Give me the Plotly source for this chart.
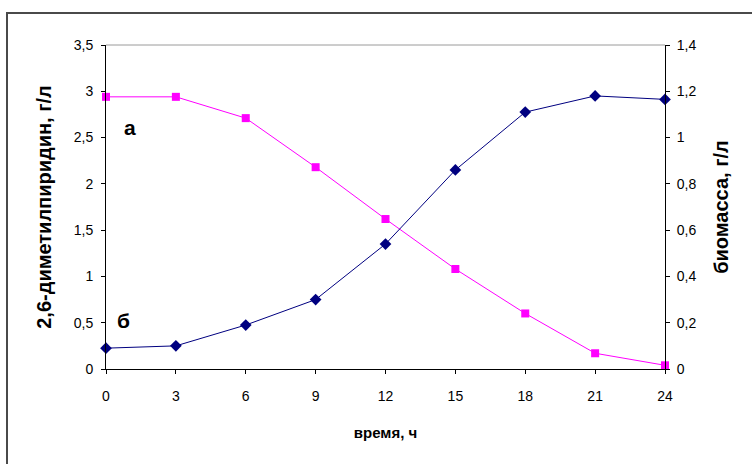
import plotly.graph_objects as go

# ---- data ----
time_h = [0, 3, 6, 9, 12, 15, 18, 21, 24]
dimethylpyridine = [2.94, 2.94, 2.71, 2.18, 1.62, 1.08, 0.60, 0.17, 0.04]
biomass = [0.09, 0.10, 0.19, 0.30, 0.54, 0.86, 1.11, 1.18, 1.165]

x_ticks = [0, 3, 6, 9, 12, 15, 18, 21, 24]
left_ticks = [0, 0.5, 1, 1.5, 2, 2.5, 3, 3.5]
left_labels = ["0", "0,5", "1", "1,5", "2", "2,5", "3", "3,5"]
right_ticks = [0, 0.2, 0.4, 0.6, 0.8, 1.0, 1.2, 1.4]
right_labels = ["0", "0,2", "0,4", "0,6", "0,8", "1", "1,2", "1,4"]

x_title = "время, ч"
left_title = "2,6-диметилпиридин, г/л"
right_title = "биомасса, г/л"
curve_labels = ["а", "б"]

FONT = "Liberation Sans, Arial, sans-serif"
PINK = "#FF00FF"
NAVY = "#000080"

fig = go.Figure()
fig.add_trace(go.Scatter(
    x=time_h, y=dimethylpyridine, mode="lines+markers", yaxis="y",
    line=dict(color=PINK, width=1),
    marker=dict(symbol="square", size=8, color=PINK),
    cliponaxis=False, showlegend=False))
fig.add_trace(go.Scatter(
    x=time_h, y=biomass, mode="lines+markers", yaxis="y2",
    line=dict(color=NAVY, width=1),
    marker=dict(symbol="diamond", size=9, color=NAVY),
    cliponaxis=False, showlegend=False))

tickfont = dict(family=FONT, size=14, color="#000000")
titlefont = dict(family=FONT, size=15, color="#000000")
ytitlefont = dict(family=FONT, size=20, color="#000000")

common_axis = dict(showgrid=False, zeroline=False, ticklen=4, tickcolor="#000000",
                   tickwidth=1, fixedrange=True)

fig.update_layout(
    width=752, height=464,
    margin=dict(l=106, r=87, t=45, b=95),
    paper_bgcolor="white", plot_bgcolor="white",
    font=dict(family=FONT, color="#000000"),
    xaxis=dict(range=[0, 24], tickvals=x_ticks, ticks="outside", showline=True,
               linecolor="#000000", linewidth=1, tickfont=tickfont,
               ticklabelstandoff=10,
               title=dict(text="<b>" + x_title + "</b>", font=titlefont, standoff=24),
               **common_axis),
    xaxis2=dict(range=[0, 24], tickvals=x_ticks, ticks="inside", overlaying="x",
                anchor="y", side="bottom", showticklabels=False, showline=False,
                **common_axis),
    yaxis=dict(range=[0, 3.5], tickvals=left_ticks, ticktext=left_labels,
               ticks="outside", showline=True, linecolor="#000000", linewidth=1,
               tickfont=tickfont, ticklabelstandoff=5,
               title=dict(text="<b>" + left_title + "</b>", font=ytitlefont, standoff=16),
               **common_axis),
    yaxis2=dict(range=[0, 1.4], tickvals=right_ticks, ticktext=right_labels,
                ticks="outside", side="right", overlaying="y", anchor="x",
                showline=True, linecolor="#000000", linewidth=1, tickfont=tickfont,
                ticklabelstandoff=4,
                title=dict(text="<b>" + right_title + "</b>", font=ytitlefont, standoff=18),
                **common_axis),
    yaxis3=dict(range=[0, 3.5], tickvals=left_ticks, ticks="inside", side="left",
                overlaying="y", anchor="x", showticklabels=False, showline=False,
                **common_axis),
    yaxis4=dict(range=[0, 1.4], tickvals=right_ticks, ticks="inside", side="right",
                overlaying="y", anchor="x", showticklabels=False, showline=False,
                **common_axis),
    shapes=[
        # plot area top border
        dict(type="line", xref="paper", yref="paper", x0=0, x1=1, y0=1, y1=1,
             line=dict(color="#9a9a9a", width=1), layer="below"),
        # chart outer border
        dict(type="rect", xref="paper", yref="paper",
             x0=(7 - 106) / 559, x1=(800 - 106) / 559,
             y0=(369 - 520) / 324, y1=(369 - 13) / 324,
             line=dict(color="#4a4a4a", width=2)),
    ],
    annotations=[
        dict(x=1.03, y=2.61, xref="x", yref="y", text="<b>" + curve_labels[0] + "</b>",
             showarrow=False, font=dict(family=FONT, size=21, color="#000000")),
        dict(x=0.77, y=0.52, xref="x", yref="y", text="<b>" + curve_labels[1] + "</b>",
             showarrow=False, font=dict(family=FONT, size=21, color="#000000")),
    ],
)

fig.write_html("out.html",
               config={"displayModeBar": False, "staticPlot": True},
               post_script="document.body.style.margin='0px';document.body.style.overflow='hidden';")
